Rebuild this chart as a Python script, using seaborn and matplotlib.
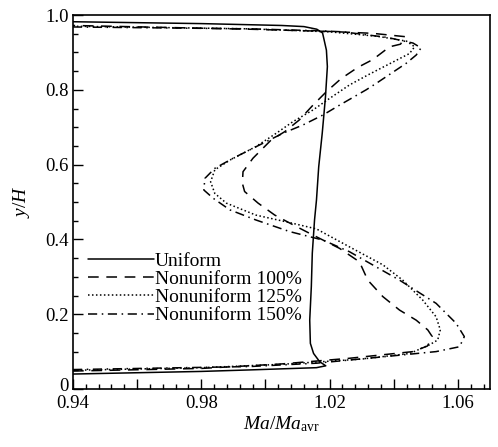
import numpy as np
import pandas as pd
import matplotlib
matplotlib.use("Agg")
import matplotlib.pyplot as plt
import matplotlib.transforms as mtransforms
from matplotlib.ticker import MultipleLocator, FixedLocator
import seaborn as sns

# Mach number profiles Ma/Ma_avr across the channel height y/H
uniform_ma = [0.940, 0.980, 0.995, 1.0159, 1.0188, 1.0169, 1.0150, 1.0140, 1.0138,
              1.0143, 1.0146, 1.0153, 1.0159, 1.0166, 1.0177, 1.0187, 1.0193, 1.0190,
              1.0178, 1.0160, 1.0120, 1.0050, 0.980, 0.940]
uniform_y = [0.040, 0.047, 0.051, 0.057, 0.062, 0.073, 0.095, 0.122, 0.184,
             0.274, 0.363, 0.452, 0.505, 0.594, 0.684, 0.780, 0.862, 0.906,
             0.952, 0.962, 0.969, 0.972, 0.977, 0.982]

nu100_ma = [0.940, 0.980, 1.005, 1.026, 1.046, 1.0505, 1.052, 1.0506, 1.047, 1.0418,
            1.0366, 1.0319, 1.0293, 1.0231, 1.0138, 1.0086, 1.0029, 0.9977, 0.9935,
            0.9928, 0.9930, 0.9961, 1.0018, 1.0060, 1.0105, 1.0146, 1.0190, 1.0236,
            1.0288, 1.0335, 1.0387, 1.0421, 1.0436, 1.0334, 1.0200, 0.995, 0.940]
nu100_y = [0.048, 0.055, 0.067, 0.082, 0.100, 0.115, 0.140, 0.158, 0.184, 0.211,
           0.247, 0.291, 0.340, 0.376, 0.416, 0.439, 0.465, 0.497, 0.528,
           0.550, 0.581, 0.617, 0.666, 0.688, 0.719, 0.757, 0.795, 0.830,
           0.860, 0.881, 0.915, 0.922, 0.942, 0.951, 0.956, 0.962, 0.972]

nu125_ma = [0.940, 0.980, 1.005, 1.030, 1.045, 1.0511, 1.0537, 1.0545, 1.0532, 1.0490,
            1.0428, 1.0366, 1.0262, 1.0159, 1.0075, 0.9970, 0.9878, 0.9842, 0.9829,
            0.9842, 0.9889, 0.9970, 1.0034, 1.0086, 1.0148, 1.0200, 1.0262, 1.0320,
            1.0449, 1.0465, 1.0440, 1.0350, 1.0200, 0.995, 0.940]
nu125_y = [0.050, 0.057, 0.066, 0.080, 0.095, 0.118, 0.131, 0.158, 0.193, 0.238,
           0.291, 0.332, 0.380, 0.428, 0.445, 0.465, 0.497, 0.523, 0.554,
           0.586, 0.612, 0.648, 0.684, 0.715, 0.746, 0.777, 0.813, 0.840,
           0.897, 0.915, 0.930, 0.943, 0.955, 0.963, 0.970]

nu150_ma = [0.940, 0.995, 1.0159, 1.0366, 1.0532, 1.0605, 1.0620, 1.0594, 1.0532, 1.0418,
            1.0262, 1.0180, 1.0075, 0.9970, 0.9889, 0.9837, 0.9808, 0.9811, 0.9842,
            0.9899, 1.0013, 1.0055, 1.0117, 1.0180, 1.0231, 1.0314, 1.0345, 1.0439,
            1.0470, 1.0485, 1.0460, 1.0380, 1.0242, 1.0160, 0.995, 0.940]
nu150_y = [0.052, 0.060, 0.069, 0.086, 0.100, 0.113, 0.140, 0.176, 0.229, 0.291,
           0.367, 0.398, 0.421, 0.452, 0.479, 0.510, 0.532, 0.563, 0.590,
           0.617, 0.666, 0.684, 0.706, 0.733, 0.759, 0.800, 0.817, 0.871,
           0.893, 0.912, 0.925, 0.940, 0.955, 0.958, 0.963, 0.968]

labels = ["Uniform", "Nonuniform 100%", "Nonuniform 125%", "Nonuniform 150%"]
x_ticks = [0.94, 0.96, 0.98, 1.00, 1.02, 1.04, 1.06]
x_ticklabels = ["0.94", "", "0.98", "", "1.02", "", "1.06"]
y_ticks = [0.0, 0.2, 0.4, 0.6, 0.8, 1.0]
y_ticklabels = ["0", "0.2", "0.4", "0.6", "0.8", "1.0"]

sns.set_theme(style="white")
plt.rcParams["font.family"] = ["Liberation Serif", "DejaVu Serif"]
plt.rcParams["mathtext.fontset"] = "custom"
plt.rcParams["mathtext.rm"] = "Liberation Serif"
plt.rcParams["mathtext.it"] = "Liberation Serif:italic"

fig = plt.figure(figsize=(4.98, 4.47), dpi=100)
ax = fig.add_axes([73 / 498, 1 - 389 / 447, 417 / 498, 374 / 447])

series = [
    (uniform_ma, uniform_y, "-"),
    (nu100_ma, nu100_y, (0, (7, 5))),
    (nu125_ma, nu125_y, (0, (1, 1.6))),
    (nu150_ma, nu150_y, (0, (6, 3, 1, 3))),
]
for (xs, ys, ls), lab in zip(series, labels):
    df = pd.DataFrame({"Ma": xs, "yH": ys})
    sns.lineplot(data=df, x="Ma", y="yH", sort=False, estimator=None,
                 color="black", linewidth=1.1, linestyle=ls, label=lab, ax=ax)

ax.set_xlim(0.94, 1.07)
ax.set_ylim(0, 1.0)

ax.xaxis.set_major_locator(FixedLocator(x_ticks))
ax.set_xticklabels(x_ticklabels)
ax.xaxis.set_minor_locator(MultipleLocator(0.004))
ax.yaxis.set_major_locator(FixedLocator(y_ticks))
ax.set_yticklabels(y_ticklabels)
ax.yaxis.set_minor_locator(MultipleLocator(0.05))

ax.tick_params(which="both", direction="in", top=False, right=False,
               bottom=True, left=True, color="black", labelsize=13.5,
               labelcolor="black", width=1.0)
ax.tick_params(which="major", length=7)
ax.tick_params(axis="y", which="major", pad=3)
ax.tick_params(axis="x", which="major", pad=4.5)
ax.tick_params(which="minor", length=3.8)

# lift the "0" on the y axis a little so it sits just above "0.94"
zero_label = ax.get_yticklabels()[0]
zero_label.set_transform(zero_label.get_transform() +
                         mtransforms.ScaledTranslation(0, 3 / 72, fig.dpi_scale_trans))

for sp in ax.spines.values():
    sp.set_color("black")
    sp.set_linewidth(1.2)

ax.set_xlabel(r"$\mathit{Ma/Ma}_{\mathrm{avr}}$", fontsize=14, color="black")
ax.set_ylabel(r"$y/H$", fontsize=14, color="black")
ax.xaxis.set_label_coords(0.5, -0.068)
ax.yaxis.set_label_coords(-0.098, 0.5)

leg = ax.legend(loc="upper left", bbox_to_anchor=(0.036, 0.366), frameon=False,
                fontsize=14, handlelength=3.4, handletextpad=0.05,
                labelspacing=0.03, borderpad=0, borderaxespad=0)
for t in leg.get_texts():
    t.set_color("black")

fig.savefig("out.png", dpi=100, facecolor="white")
